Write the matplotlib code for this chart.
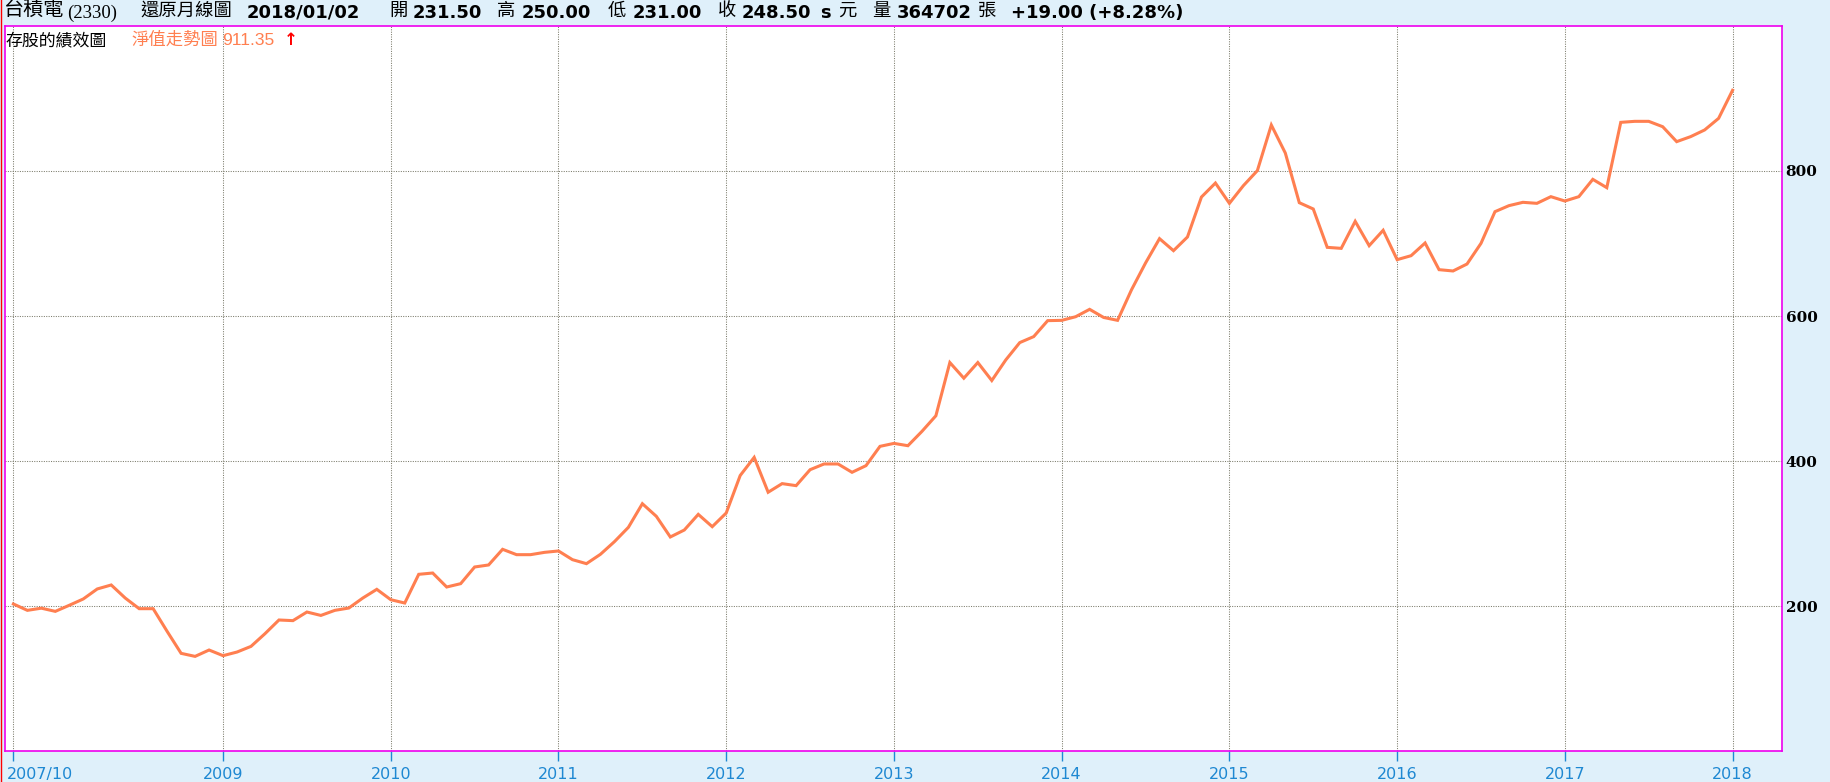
import numpy as np
import matplotlib
matplotlib.use("Agg")
import matplotlib.pyplot as plt
from matplotlib.lines import Line2D
import matplotlib.transforms as mtransforms

# ---------------- data ----------------
start_year, start_month = 2007, 10
nav_values = [
    202.8, 194, 197, 192.6, 201, 209.7, 223.5, 229, 211, 196.3, 196.3, 165,
    134.7, 130.5, 139.3, 131.5, 136.5, 144.3, 161.8, 180.7, 179.8, 191.7, 187, 194,
    197.2, 211, 223, 208.7, 204.1, 243.7, 245.5, 226.2, 230.8, 253.8, 256.6, 278.2,
    270.8, 270.8, 274, 275.9, 263.9, 258.4, 271.3, 288.7, 308.5, 341.1, 323.7, 295.2,
    304.8, 326.4, 309.4, 328.3, 380, 405, 356.9, 368.8, 366, 388, 395.9, 395.9,
    384.4, 393.6, 420.2, 424.3, 421.1, 440.8, 462.4, 535.8, 514.2, 535.8, 511, 539.4,
    563.3, 571.6, 593.6, 594, 599, 609.2, 598, 594, 636.3, 673.1, 706.7, 690.1,
    709, 764.1, 783.4, 755.4, 779.8, 800.5, 863.4, 824.8, 756.3, 747.6, 694.7, 693.3,
    730.6, 697, 718.2, 677.7, 683.2, 700.7, 663.9, 662.1, 671.7, 700.2, 743.9, 752.2,
    756.8, 755.4, 764.6, 758.6, 764.6, 788.5, 777, 867.1, 868.5, 868.5, 861.1, 840.5,
    847.4, 856.6, 872.6, 911.35,
]
x_tick_labels = ["2007/10", "2009", "2010", "2011", "2012", "2013",
                 "2014", "2015", "2016", "2017", "2018"]
y_ticks = [200, 400, 600, 800]

header_parts = [  # (text, x_px, kind)
    ("台積電", 4, "cjk_big"), ("(2330)", 67, "serif"),
    ("還原月線圖", 140, "cjk"), ("2018/01/02", 247, "num"),
    ("開", 389, "cjk"), ("231.50", 413, "num"),
    ("高", 497, "cjk"), ("250.00", 522, "num"),
    ("低", 608, "cjk"), ("231.00", 633, "num"),
    ("收", 718, "cjk"), ("248.50", 742, "num"), ("s", 820, "num"), ("元", 838, "cjk"),
    ("量", 872, "cjk"), ("364702", 897, "num"), ("張", 978, "cjk"),
    ("+19.00 (+8.28%)", 1011, "num"),
]
legend_title = "存股的績效圖"
legend_series = "淨值走勢圖"
legend_value = "911.35"

# ---------------- layout ----------------
W, H = 1830, 782
DPI = 100
BG = "#DFF0FA"
LINE_C = "#FF7F50"
MAG = "#EE00EE"
BLUE = "#1E88D2"
GRID_C = "#7C7C6C"

def fx(px):
    return px / W

def fy(py):
    return 1 - py / H

fig = plt.figure(figsize=(W / DPI, H / DPI), dpi=DPI, facecolor=BG)
ax_l, ax_r, ax_t, ax_b = 5, 1781.5, 26, 751
ax = fig.add_axes([fx(ax_l), fy(ax_b), fx(ax_r) - fx(ax_l), fy(ax_t) - fy(ax_b)])
ax.set_facecolor("white")

def month_index(label):
    if "/" in label:
        y, m = label.split("/")
        y, m = int(y), int(m)
    else:
        y, m = int(label), 1
    return (y - start_year) * 12 + (m - start_month)

xs = np.arange(len(nav_values))
ax.plot(xs, nav_values, color=LINE_C, lw=2.2, solid_joinstyle="miter", zorder=3)

ax.set_xlim(-0.6, 126.5)
ax.set_ylim(0, 1000)

xt = [month_index(l) for l in x_tick_labels]
ax.set_xticks(xt)
ax.set_xticklabels(x_tick_labels)
ax.set_yticks(y_ticks)
ax.set_yticklabels([str(v) for v in y_ticks])

ax.yaxis.tick_right()
ax.tick_params(axis="y", length=0, pad=3,
               labelsize=11, labelcolor="black")
for lab in ax.get_yticklabels():
    lab.set_fontfamily("DejaVu Serif")
    lab.set_fontweight("bold")
ax.tick_params(axis="x", length=7.2, width=1, color=BLUE, pad=4,
               labelsize=11.5, labelcolor=BLUE, direction="out")
for lab in ax.get_xticklabels():
    lab.set_fontfamily("DejaVu Sans")
first = ax.get_xticklabels()[0]
first.set_horizontalalignment("left")
first.set_transform(first.get_transform() +
                    mtransforms.ScaledTranslation(-7 / DPI, 0, fig.dpi_scale_trans))

ax.grid(True, color=GRID_C, lw=0.75, linestyle=(0, (1, 1.3)), zorder=1)

for s in ax.spines.values():
    s.set_color(MAG)
    s.set_linewidth(1.2)

# red line at far left edge
fig.add_artist(Line2D([fx(1.2), fx(1.2)], [0, 1], color="#FF0000", lw=1.0))

# ---------------- header ----------------
cjk = ["Noto Sans CJK TC", "DejaVu Sans"]
base = fy(17.5)
for txt, xp, kind in header_parts:
    if kind == "num":
        fig.text(fx(xp), base, txt, fontsize=13, fontweight="bold",
                 family="DejaVu Sans", color="black", ha="left", va="baseline")
    elif kind == "serif":
        fig.text(fx(xp), base, txt, fontsize=13.5, family="Liberation Serif",
                 color="black", ha="left", va="baseline")
    elif kind == "cjk_big":
        fig.text(fx(xp), base + 0.002, txt, fontsize=14.5, family=cjk,
                 color="black", ha="left", va="baseline")
    else:
        fig.text(fx(xp), base + 0.002, txt, fontsize=13.2, family=cjk,
                 color="black", ha="left", va="baseline")

# ---------------- inner legend ----------------
lb = fy(45)
fig.text(fx(5), lb, legend_title, fontsize=12.2, family=cjk, color="black",
         ha="left", va="baseline")
fig.text(fx(131), lb, legend_series, fontsize=12.5, family=cjk, color=LINE_C,
         ha="left", va="baseline")
fig.text(fx(222), lb, legend_value, fontsize=12.5, family="Liberation Sans",
         color=LINE_C, ha="left", va="baseline")
fig.text(fx(284), lb, "↑", fontsize=12, fontweight="bold", family="DejaVu Sans",
         color="#FF0000", ha="left", va="baseline")

fig.savefig("out.png", dpi=DPI, facecolor=BG)
